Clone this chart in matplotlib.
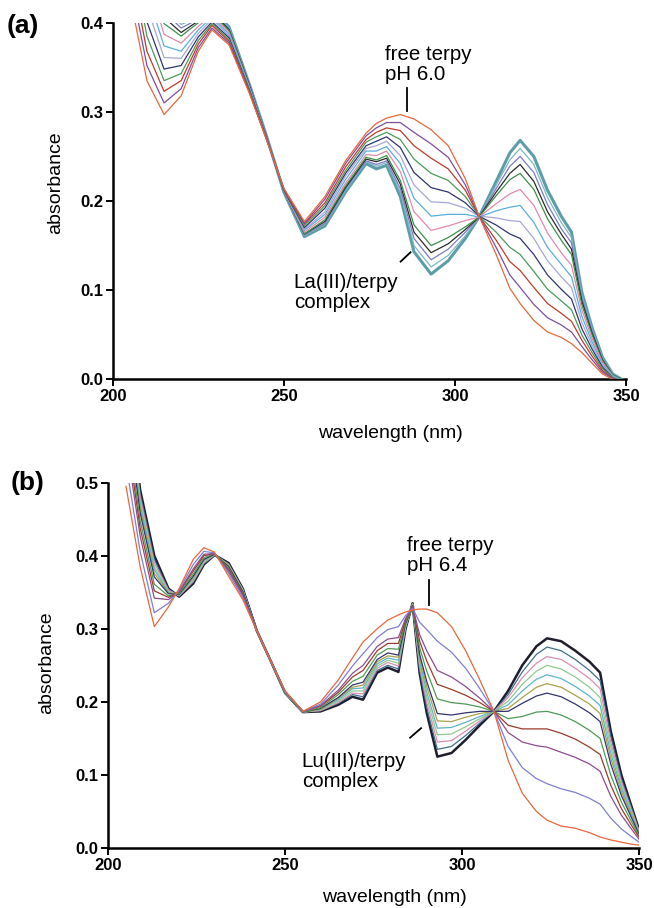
import matplotlib
matplotlib.use("Agg")
import matplotlib.pyplot as plt
from matplotlib.ticker import FormatStrFormatter

plt.rcParams['font.family'] = ['Liberation Sans', 'DejaVu Sans']

# ---- panel (a): La(III) titration, absorbance x1000 ----
wl_a = [205, 210, 215, 220, 225, 229, 234, 240, 245, 250, 256, 262, 268, 274, 277, 280, 284,
        288, 293, 298, 303, 307, 312, 316, 319, 323, 327, 331, 334, 337, 340, 343, 346, 350]

spectra_a = [
    [430, 335, 297, 318, 368, 392, 375, 320, 268, 214, 177, 205, 245, 276, 287, 293, 297,
     292, 280, 262, 225, 183, 140, 102, 85, 66, 53, 47, 40, 30, 18, 6, 0, -5],
    [449, 352, 310, 326, 372, 394, 377, 321, 268, 214, 175, 202, 242, 273, 282, 288, 288,
     277, 264, 249, 218, 183, 148, 117, 103, 84, 69, 61, 53, 37, 22, 8, 1, -5],
    [468, 368, 323, 335, 376, 397, 379, 322, 269, 213, 174, 198, 238, 269, 277, 282, 279,
     262, 248, 236, 212, 183, 156, 132, 122, 103, 85, 74, 65, 44, 26, 10, 1, -5],
    [487, 385, 335, 343, 380, 399, 381, 323, 269, 213, 172, 195, 234, 266, 272, 277, 269,
     247, 231, 223, 205, 183, 165, 148, 140, 121, 101, 88, 78, 50, 30, 12, 2, -4],
    [506, 401, 348, 352, 384, 401, 383, 324, 270, 212, 170, 192, 231, 262, 267, 272, 260,
     232, 215, 210, 198, 183, 173, 163, 158, 140, 117, 101, 90, 57, 34, 14, 2, -4],
    [525, 418, 361, 360, 388, 404, 385, 325, 270, 212, 168, 188, 228, 259, 262, 267, 251,
     218, 199, 198, 192, 183, 181, 178, 177, 158, 133, 115, 103, 64, 38, 16, 3, -4],
    [544, 434, 374, 368, 392, 406, 387, 326, 270, 212, 167, 185, 224, 256, 256, 261, 242,
     203, 183, 185, 185, 182, 189, 193, 195, 176, 148, 129, 115, 71, 42, 17, 4, -4],
    [563, 451, 387, 377, 396, 408, 389, 327, 271, 211, 165, 182, 220, 252, 251, 256, 233,
     188, 167, 172, 178, 182, 197, 208, 213, 195, 164, 142, 128, 78, 46, 19, 4, -4],
    [582, 467, 399, 385, 400, 410, 391, 328, 271, 211, 163, 179, 217, 249, 246, 251, 223,
     173, 150, 159, 171, 182, 206, 224, 231, 213, 180, 156, 140, 84, 50, 21, 5, -3],
    [592, 475, 406, 389, 402, 412, 392, 329, 271, 211, 163, 177, 215, 247, 244, 248, 219,
     165, 142, 152, 168, 182, 210, 231, 241, 222, 188, 163, 146, 88, 52, 22, 5, -3],
    [601, 484, 412, 394, 404, 413, 393, 329, 272, 210, 162, 175, 214, 245, 241, 245, 214,
     158, 134, 146, 165, 182, 214, 239, 250, 232, 196, 169, 153, 91, 54, 23, 5, -3],
    [610, 492, 419, 398, 406, 414, 394, 330, 272, 210, 161, 174, 212, 244, 239, 243, 210,
     150, 126, 139, 161, 182, 218, 246, 259, 241, 204, 176, 159, 95, 56, 24, 6, -3],
    [620, 500, 425, 402, 408, 415, 395, 330, 272, 210, 160, 172, 210, 242, 236, 240, 205,
     143, 118, 133, 158, 182, 222, 254, 268, 250, 212, 183, 165, 98, 58, 25, 6, -3],
]
colors_a = ['#e8673c', '#7d4e9e', '#c0392b', '#4a9a5a', '#2e3470', '#a7a7d8', '#5aaedc',
            '#e28aa8', '#3d8f4a', '#2b2b2b', '#7c7cc4', '#7fb6c6', '#5c9ea8']

# ---- panel (b): Lu(III) titration, absorbance x1000 ----
wl_b = [205, 209, 213, 217, 220, 224, 227, 230, 234, 238, 242, 246, 250, 255, 260, 265, 269,
        272, 276, 279, 282, 284, 286, 288, 290, 293, 297, 301, 305, 309, 313, 317, 321, 324,
        328, 332, 336, 339, 342, 345, 348, 350]

spectra_b = [
    [495, 385, 303, 330, 355, 395, 411, 405, 372, 340, 297, 255, 215, 187, 200, 230, 260,
     282, 300, 312, 319, 323, 326, 327, 327, 322, 303, 270, 230, 187, 120, 75, 50, 38,
     30, 27, 21, 15, 11, 8, 5, 4],
    [526, 406, 322, 335, 353, 388, 406, 404, 376, 343, 297, 255, 214, 187, 197, 223, 249,
     266, 288, 299, 303, 318, 328, 309, 299, 283, 268, 246, 218, 187, 139, 110, 95, 88,
     81, 76, 68, 60, 41, 26, 15, 8],
    [557, 427, 342, 340, 351, 382, 402, 403, 379, 346, 297, 255, 214, 187, 195, 216, 239,
     250, 276, 286, 288, 314, 330, 292, 270, 243, 234, 221, 205, 187, 158, 145, 140, 138,
     131, 124, 115, 105, 71, 45, 25, 12],
    [573, 438, 352, 343, 350, 379, 400, 403, 381, 348, 297, 255, 214, 187, 194, 213, 234,
     243, 270, 280, 280, 312, 331, 283, 256, 224, 217, 209, 199, 187, 168, 163, 163, 163,
     157, 149, 138, 128, 86, 54, 30, 15],
    [588, 448, 361, 345, 348, 375, 397, 403, 383, 349, 297, 255, 213, 186, 192, 210, 228,
     235, 264, 273, 272, 309, 331, 274, 242, 204, 199, 197, 193, 187, 177, 180, 186, 187,
     182, 173, 161, 150, 100, 63, 35, 17],
    [604, 459, 371, 348, 347, 372, 395, 402, 385, 351, 297, 255, 213, 186, 191, 206, 223,
     227, 258, 267, 264, 307, 332, 265, 228, 184, 182, 185, 187, 187, 187, 198, 208, 212,
     207, 197, 185, 173, 115, 72, 40, 19],
    [611, 464, 376, 349, 347, 370, 394, 402, 386, 351, 297, 255, 213, 186, 190, 205, 220,
     223, 255, 263, 261, 306, 333, 261, 221, 174, 173, 179, 184, 187, 191, 206, 220, 225,
     220, 209, 197, 184, 123, 77, 43, 20],
    [619, 469, 381, 350, 346, 369, 393, 402, 386, 352, 297, 255, 213, 186, 190, 203, 218,
     219, 252, 260, 257, 305, 333, 257, 213, 164, 165, 172, 180, 187, 196, 215, 231, 237,
     232, 221, 208, 195, 130, 82, 45, 21],
    [627, 474, 385, 351, 346, 367, 391, 402, 387, 353, 297, 255, 212, 186, 189, 201, 215,
     215, 249, 257, 253, 303, 334, 252, 206, 155, 156, 166, 177, 187, 201, 224, 242, 250,
     245, 234, 220, 206, 138, 86, 48, 22],
    [635, 480, 390, 353, 345, 365, 390, 401, 388, 354, 297, 255, 212, 186, 188, 199, 212,
     211, 246, 254, 249, 302, 334, 248, 199, 145, 147, 160, 174, 187, 206, 233, 253, 262,
     258, 246, 232, 218, 145, 91, 50, 23],
    [642, 485, 395, 354, 345, 364, 389, 401, 389, 354, 297, 255, 212, 186, 188, 198, 210,
     207, 243, 250, 245, 301, 335, 243, 192, 135, 139, 154, 171, 187, 210, 241, 265, 275,
     270, 258, 243, 229, 153, 95, 53, 24],
    [650, 490, 400, 355, 344, 362, 388, 401, 390, 355, 297, 255, 212, 186, 187, 196, 207,
     203, 240, 247, 241, 300, 335, 239, 185, 125, 130, 148, 168, 187, 215, 250, 276, 287,
     283, 270, 255, 240, 160, 100, 55, 25],
]
colors_b = ['#e8673c', '#7f7fd0', '#8e4c8e', '#9a3b2b', '#4f9a55', '#32356e', '#a9a24a',
            '#5fb3c9', '#8fc98f', '#d98fb0', '#3f6f8f', '#1e1e2e']

LABEL_FS = 14
NOTE_FS = 14.8


def style_axes(ax, ymax):
    ax.set_xlim(200, 350)
    ax.set_ylim(0, ymax)
    ax.set_xticks([200, 250, 300, 350])
    ax.set_yticks([i / 10 for i in range(int(round(ymax * 10)) + 1)])
    ax.yaxis.set_major_formatter(FormatStrFormatter('%.1f'))
    for side in ['top', 'right']:
        ax.spines[side].set_visible(False)
    for side in ['left', 'bottom']:
        ax.spines[side].set_linewidth(1.8)
    ax.tick_params(direction='out', length=5, width=1.4, pad=2)
    for lab in ax.get_xticklabels() + ax.get_yticklabels():
        lab.set_fontweight('bold')
        lab.set_fontsize(12)
    ax.set_ylabel('absorbance', fontsize=LABEL_FS)
    ax.set_xlabel('wavelength (nm)', fontsize=LABEL_FS)


fig = plt.figure(figsize=(6.54, 9.08), dpi=100)

# panel a
ax_a = fig.add_axes([0.1723, 0.5823, 0.7853, 0.3927])
for i, (vals, c) in enumerate(zip(spectra_a, colors_a)):
    lw = 2.2 if i == len(spectra_a) - 1 else 0.9
    ax_a.plot(wl_a, [v / 1000 for v in vals], color=c, lw=lw,
              zorder=20 if i == 0 else 10 - i * 0.1)
style_axes(ax_a, 0.4)
ax_a.yaxis.set_label_coords(-0.094, 0.55)
ax_a.xaxis.set_label_coords(0.54, -0.128)
ax_a.text(279.5, 0.353, 'free terpy\npH 6.0', fontsize=NOTE_FS, va='center', ha='left',
          linespacing=1.05)
ax_a.plot([286, 286], [0.301, 0.327], color='black', lw=1.3)
ax_a.text(252.9, 0.097, 'La(III)/terpy\ncomplex', fontsize=NOTE_FS, va='center', ha='left',
          linespacing=1.05)
ax_a.plot([284.1, 287], [0.132, 0.1425], color='black', lw=1.3)

# panel b
ax_b = fig.add_axes([0.1656, 0.0661, 0.8115, 0.4023])
for i, (vals, c) in enumerate(zip(spectra_b, colors_b)):
    lw = 1.8 if i == len(spectra_b) - 1 else 0.9
    ax_b.plot(wl_b, [v / 1000 for v in vals], color=c, lw=lw,
              zorder=20 if i == 0 else 10 - i * 0.1)
style_axes(ax_b, 0.5)
ax_b.yaxis.set_label_coords(-0.1, 0.506)
ax_b.xaxis.set_label_coords(0.54, -0.113)
ax_b.text(284.3, 0.40, 'free terpy\npH 6.4', fontsize=NOTE_FS, va='center', ha='left',
          linespacing=1.05)
ax_b.plot([290.7, 290.7], [0.333, 0.367], color='black', lw=1.3)
ax_b.text(254.7, 0.105, 'Lu(III)/terpy\ncomplex', fontsize=NOTE_FS, va='center', ha='left',
          linespacing=1.05)
ax_b.plot([285.3, 288.4], [0.151, 0.164], color='black', lw=1.3)

fig.text(0.01, 0.985, '(a)', fontsize=19, fontweight='bold', va='top', ha='left')
fig.text(0.017, 0.481, '(b)', fontsize=19, fontweight='bold', va='top', ha='left')

fig.savefig('out.png', dpi=100)
